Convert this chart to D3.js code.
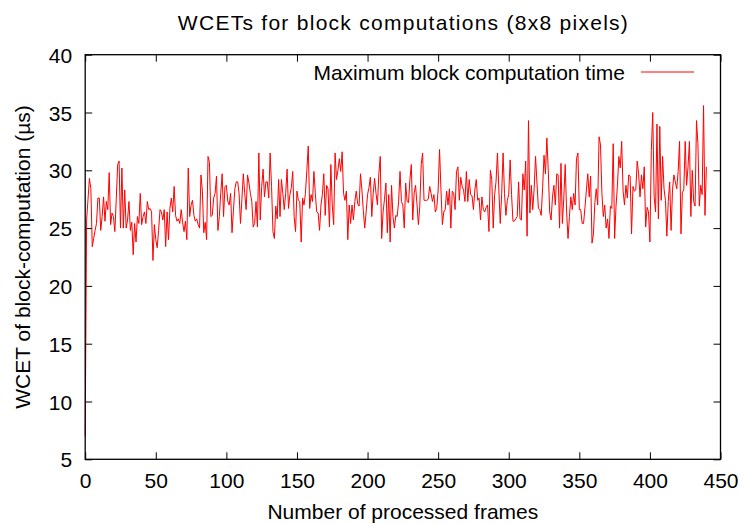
<!DOCTYPE html>
<html>
<head>
<meta charset="utf-8">
<script src="https://d3js.org/d3.v7.min.js"></script>
<style>
  body { margin: 0; background: #fff; }
  text { font-family: "Liberation Sans", Arial, Helvetica, sans-serif; fill: #000; }
</style>
</head>
<body>
<div id="chart"></div>
<script>
// WCET per processed frame (µs)
var wcet = [
  7.0, 25.7, 27.5, 29.3, 28.4, 23.4, 24.1, 24.8, 25.4, 27.6,
  27.6, 24.8, 26.0, 27.7, 25.6, 27.3, 26.6, 29.8, 25.3, 26.3,
  26.0, 24.7, 27.5, 30.5, 30.8, 25.0, 30.2, 25.0, 28.3, 25.0,
  25.7, 27.3, 24.8, 25.5, 22.7, 25.4, 23.8, 26.0, 25.4, 28.0,
  25.3, 26.0, 26.4, 25.4, 27.3, 26.6, 26.7, 26.4, 22.2, 25.3,
  24.0, 23.3, 24.8, 26.6, 26.4, 25.7, 26.6, 23.4, 26.4, 24.0,
  26.7, 27.6, 26.4, 28.6, 26.1, 25.6, 25.8, 25.4, 26.6, 25.5,
  24.7, 25.6, 24.0, 30.2, 26.0, 27.0, 27.4, 26.1, 25.6, 25.8,
  25.3, 25.0, 29.6, 28.2, 24.6, 25.5, 24.0, 31.2, 30.7, 26.0,
  26.1, 27.6, 28.0, 29.5, 24.8, 26.0, 28.0, 29.7, 26.0, 28.6,
  28.7, 27.3, 27.0, 28.0, 24.6, 26.5, 28.4, 29.0, 29.0, 28.0,
  25.4, 27.5, 29.7, 28.0, 26.6, 29.6, 28.9, 28.0, 27.3, 25.1,
  25.4, 27.3, 25.1, 31.5, 25.7, 28.6, 30.1, 27.7, 29.0, 29.0,
  27.6, 31.5, 28.6, 24.7, 24.1, 26.9, 25.8, 29.2, 26.0, 29.2,
  28.0, 26.6, 28.0, 30.1, 26.7, 27.9, 28.5, 29.9, 26.0, 24.7,
  28.2, 27.4, 27.3, 23.8, 27.6, 27.0, 28.0, 30.0, 32.1, 26.7,
  27.9, 27.3, 29.9, 28.0, 26.4, 26.3, 24.8, 27.0, 27.9, 29.7,
  26.1, 28.7, 28.4, 25.1, 30.5, 27.0, 25.3, 31.5, 29.2, 30.0,
  31.0, 29.9, 31.6, 28.0, 27.4, 28.2, 24.0, 27.0, 25.4, 27.0,
  25.7, 27.3, 28.2, 27.1, 26.9, 29.7, 28.3, 26.5, 25.0, 26.4,
  27.9, 28.5, 29.4, 26.0, 28.0, 29.3, 28.0, 27.0, 29.7, 31.2,
  24.1, 26.4, 27.5, 28.9, 24.6, 27.9, 23.8, 28.7, 26.0, 25.0,
  26.1, 26.0, 27.3, 29.9, 27.3, 27.0, 25.0, 28.9, 27.3, 27.2,
  29.2, 30.5, 25.7, 28.0, 28.7, 27.1, 25.3, 26.9, 30.5, 31.5,
  27.4, 27.4, 27.4, 27.5, 28.6, 28.0, 27.3, 27.9, 26.4, 26.7,
  28.3, 31.8, 28.3, 25.3, 26.4, 26.6, 28.2, 27.0, 28.4, 25.0,
  28.2, 28.0, 26.6, 29.9, 30.3, 27.4, 29.4, 28.6, 28.3, 27.3,
  29.9, 27.3, 29.2, 27.9, 27.8, 26.6, 28.3, 29.2, 27.4, 27.6,
  25.7, 27.7, 26.6, 26.4, 26.8, 27.0, 24.7, 30.0, 29.2, 25.0,
  27.9, 29.0, 31.5, 28.3, 25.4, 28.0, 31.5, 28.0, 26.1, 27.4,
  27.9, 30.9, 27.9, 25.6, 25.6, 25.8, 26.0, 29.0, 25.8, 25.7,
  29.7, 28.3, 30.8, 24.3, 34.3, 26.3, 28.7, 26.6, 28.4, 31.2,
  28.9, 26.7, 26.6, 26.1, 28.5, 31.3, 29.7, 32.8, 30.0, 26.4,
  25.7, 27.7, 28.7, 27.0, 29.7, 29.6, 25.0, 30.6, 25.4, 27.6,
  30.5, 26.4, 24.1, 26.0, 27.7, 26.6, 28.0, 27.0, 31.0, 31.5,
  26.6, 26.6, 25.4, 25.4, 26.8, 28.3, 29.7, 27.7, 29.5, 23.7,
  24.5, 27.2, 28.4, 27.0, 32.9, 32.2, 28.0, 26.0, 27.0, 25.0,
  25.8, 24.1, 26.9, 26.7, 32.3, 24.1, 26.9, 28.7, 31.2, 30.2,
  32.5, 28.2, 27.0, 28.7, 27.6, 29.6, 29.5, 24.5, 28.6, 28.2,
  28.3, 30.8, 29.7, 27.7, 29.6, 28.4, 30.3, 25.1, 26.8, 26.4,
  23.8, 31.7, 35.0, 27.7, 26.4, 34.0, 25.8, 33.8, 27.4, 31.2,
  28.4, 27.4, 24.3, 27.3, 29.0, 24.8, 28.3, 29.6, 29.0, 28.4,
  29.9, 32.5, 24.5, 28.1, 28.3, 32.5, 28.7, 30.3, 32.5, 26.0,
  30.0, 27.3, 26.9, 34.3, 32.3, 26.9, 28.7, 27.9, 35.6, 26.1,
  30.3
];
var xTicks = [0, 50, 100, 150, 200, 250, 300, 350, 400, 450];
var yTicks = [5, 10, 15, 20, 25, 30, 35, 40];

var margin = {top: 54.7, right: 22.5, bottom: 64.7, left: 85.2},
    W = 743, H = 524,
    width = W - margin.left - margin.right,
    height = H - margin.top - margin.bottom;

var xScale = d3.scaleLinear().domain([0, 450]).range([0, width]);
var yScale = d3.scaleLinear().domain([5, 40]).range([height, 0]);

var line = d3.line()
             .x(function(d, i) { return xScale(i) })
             .y(function(d) { return yScale(d) });

var svg = d3.select('#chart').append('svg')
            .attr('width', W)
            .attr('height', H);

svg.append('rect').attr('width', W).attr('height', H).style('fill', '#fff');

var g = svg.append('g')
           .attr('transform', 'translate(' + margin.left + ',' + margin.top + ')');

// gnuplot style: ticks point inward, mirrored on top and right
var tickLen = 7;
var drawAxis = function(axis, pos) {
  var ax = g.append('g')
            .attr('transform', 'translate(' + pos + ')')
            .call(axis.tickSizeInner(-tickLen).tickSizeOuter(0).tickPadding(0));
  ax.select('.domain').remove();
  ax.selectAll('.tick line').style('stroke', '#000').style('stroke-width', 1);
  ax.selectAll('.tick text').style('font-size', '21px').attr('fill', '#000');
  return ax;
};
var xAx = drawAxis(d3.axisBottom(xScale).tickValues(xTicks), [0, height]);
xAx.selectAll('.tick text').attr('y', 29).attr('dy', null);
drawAxis(d3.axisTop(xScale).tickValues(xTicks), [0, 0]).selectAll('.tick text').remove();
var yAx = drawAxis(d3.axisLeft(yScale).tickValues(yTicks), [0, 0]);
yAx.selectAll('.tick text').attr('x', -13).attr('dy', '0.36em');
drawAxis(d3.axisRight(yScale).tickValues(yTicks), [width, 0]).selectAll('.tick text').remove();

// data line
g.append('path')
 .datum(wcet)
 .attr('d', line)
 .style('fill', 'none')
 .style('stroke', '#ff0000')
 .style('stroke-width', 1);

// plot border
g.append('rect')
 .attr('width', width)
 .attr('height', height)
 .style('fill', 'none')
 .style('stroke', '#000')
 .style('stroke-width', 1.3);

// Title and axis labels
svg.append('text')
   .attr('x', margin.left + width / 2)
   .attr('y', 30)
   .attr('text-anchor', 'middle')
   .attr('textLength', 450)
   .attr('lengthAdjust', 'spacing')
   .style('font-size', '21px')
   .text('WCETs for block computations (8x8 pixels)');
svg.append('text')
   .attr('x', margin.left + width / 2)
   .attr('y', 519)
   .attr('text-anchor', 'middle')
   .style('font-size', '21px')
   .text('Number of processed frames');
svg.append('text')
   .attr('transform', 'translate(30,' + (margin.top + height / 2) + ') rotate(-90)')
   .attr('text-anchor', 'middle')
   .style('font-size', '21px')
   .text('WCET of block-computation (µs)');

// legend
svg.append('text')
   .attr('x', 625)
   .attr('y', 80)
   .attr('text-anchor', 'end')
   .style('font-size', '21px')
   .text('Maximum block computation time');
svg.append('line')
   .attr('x1', 641).attr('x2', 694)
   .attr('y1', 72).attr('y2', 72)
   .style('stroke', '#ff0000')
   .style('stroke-width', 1);
</script>
</body>
</html>
